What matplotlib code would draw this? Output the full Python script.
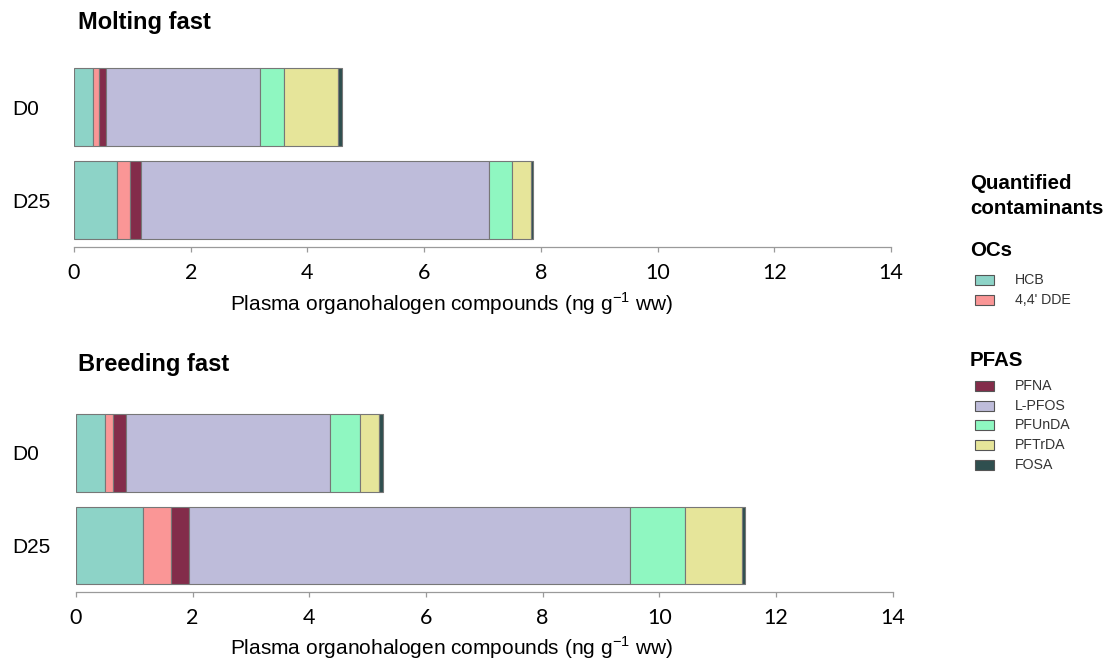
import matplotlib
matplotlib.use("Agg")
import matplotlib.pyplot as plt
from matplotlib.patches import Rectangle

plt.rcParams['font.family'] = ['Liberation Sans', 'DejaVu Sans']
plt.rcParams['mathtext.fontset'] = 'custom'
plt.rcParams['mathtext.rm'] = 'Liberation Sans'

# data (ng g-1 ww)
groups = ['D0', 'D25']
compounds = ['HCB', "4,4' DDE", 'PFNA', 'L-PFOS', 'PFUnDA', 'PFTrDA', 'FOSA']
oc_names = ['HCB', "4,4' DDE"]
pfas_names = ['PFNA', 'L-PFOS', 'PFUnDA', 'PFTrDA', 'FOSA']
molt_d0 = [0.33, 0.10, 0.11, 2.64, 0.42, 0.93, 0.07]
molt_d25 = [0.74, 0.22, 0.18, 5.97, 0.39, 0.33, 0.04]
breed_d0 = [0.49, 0.15, 0.22, 3.50, 0.51, 0.33, 0.07]
breed_d25 = [1.15, 0.48, 0.31, 7.56, 0.94, 0.98, 0.04]
xticks = [0, 2, 4, 6, 8, 10, 12, 14]

colors = {'HCB': '#8DD3C7', "4,4' DDE": '#FA9696', 'PFNA': '#832C4A',
          'L-PFOS': '#BEBCDA', 'PFUnDA': '#8FF7C1', 'PFTrDA': '#E6E59A',
          'FOSA': '#2F4F4F'}
EDGE = '#777777'
AXC = '#9a9a9a'
W, H = 1107, 660


def fx(x):
    return x / W


def fy(y):
    return 1 - y / H


def draw_panel(ax, d0, d25, ypad):
    pos = [1, 0]
    for ypos, vals in zip(pos, [d0, d25]):
        left = 0
        for name, v in zip(compounds, vals):
            ax.barh(ypos, v, left=left, height=0.835, color=colors[name],
                    edgecolor=EDGE, linewidth=0.8)
            left += v
    ax.set_xlim(0, 14)
    ax.set_ylim(-0.5, 1.5)
    ax.set_yticks(pos)
    ax.set_yticklabels(groups, fontsize=15, ha='left')
    ax.tick_params(axis='y', length=0, pad=ypad)
    ax.set_xticks(xticks)
    ax.set_xticklabels([str(t) for t in xticks],
                       family=['Lato', 'DejaVu Sans'], fontsize=15.5)
    ax.tick_params(axis='x', colors=AXC, labelcolor='black', length=3.6,
                   width=0.9, pad=8)
    for s in ['top', 'left', 'right']:
        ax.spines[s].set_visible(False)
    ax.spines['bottom'].set_color(AXC)
    ax.spines['bottom'].set_linewidth(0.9)


fig = plt.figure(figsize=(W / 100, H / 100), dpi=100)

ax1 = fig.add_axes([fx(74), fy(247), (891 - 74) / W, 186.4 / H])
draw_panel(ax1, molt_d0, molt_d25, (74 - 12) * 0.72)
ax2 = fig.add_axes([fx(76), fy(591.7), (892.7 - 76) / W, 185 / H])
draw_panel(ax2, breed_d0, breed_d25, (76 - 12) * 0.72)

xlab = r'Plasma organohalogen compounds (ng g$^{-1}$ ww)'
fig.text(fx(451), fy(304), xlab, ha='center', va='center', fontsize=15)
fig.text(fx(451), fy(648), xlab, ha='center', va='center', fontsize=15)

fig.text(fx(78), fy(23), 'Molting fast', ha='left', va='center',
         fontsize=17, weight='bold')
fig.text(fx(78), fy(365), 'Breeding fast', ha='left', va='center',
         fontsize=17, weight='bold')

# legend
fig.text(fx(970), fy(183), 'Quantified', ha='left', va='center',
         fontsize=14.8, weight='bold')
fig.text(fx(970), fy(209), 'contaminants', ha='left', va='center',
         fontsize=14.8, weight='bold')


def legend_block(title, names, y_title, y_first):
    fig.text(fx(970), fy(y_title), title, ha='left', va='center',
             fontsize=14.8, weight='bold')
    for i, name in enumerate(names):
        yc = y_first + i * 19.8
        fig.patches.append(Rectangle((fx(975), fy(yc + 5)), 19 / W, 10 / H,
                                     transform=fig.transFigure,
                                     facecolor=colors[name], edgecolor='#555555',
                                     linewidth=0.8))
        fig.text(fx(1015), fy(yc), name, ha='left', va='center',
                 fontsize=10.2, color='#333333')


legend_block('OCs', oc_names, 250, 280)
legend_block('PFAS', pfas_names, 360, 385.7)

fig.savefig('out.png', dpi=100)
